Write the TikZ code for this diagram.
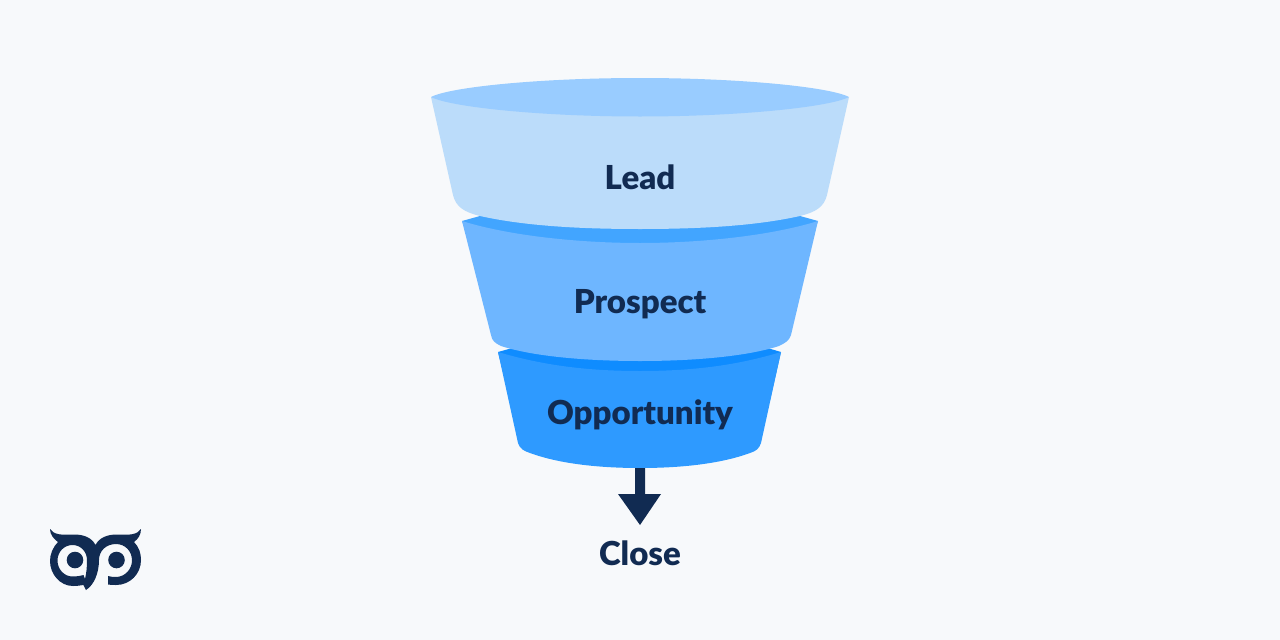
\documentclass[tikz,border=0pt]{standalone}
\usepackage{fontspec}
\setmainfont{Lato}
\IfFontExistsTF{Lato Black}{\newfontfamily\lblfont{Lato Black}}{\newfontfamily\lblfont{Lato}[BoldFont=Lato Bold]}
\definecolor{bgc}{HTML}{F7F9FB}
\definecolor{navy}{HTML}{112B52}
\definecolor{leadbody}{HTML}{BBDCFA}
\definecolor{leadtop}{HTML}{99CCFF}
\definecolor{prosbody}{HTML}{6EB6FF}
\definecolor{prosband}{HTML}{42A5FF}
\definecolor{oppbody}{HTML}{2E9AFF}
\definecolor{oppband}{HTML}{0F8CFF}
\tikzset{label text/.style={text=navy,font=\fontsize{33}{34}\lblfont,inner sep=0pt,anchor=center}}
\begin{document}
\begin{tikzpicture}[x=1pt,y=-1pt]
\useasboundingbox (0,0) rectangle (1280,640);
\fill[bgc] (0,0) rectangle (1280,640);
% opportunity
\fill[oppband] (498,352) -- (516,347) -- (764,347) -- (781,352) -- (770,400) -- (510,400) -- cycle;
\fill[oppbody] (498,352) .. controls (545,366) and (590,371) .. (640,371) .. controls (690,371) and (735,366) .. (781,352)
 -- (761,443) .. controls (759,449) and (756,451) .. (750,453) .. controls (720,464) and (680,468) .. (640,468) .. controls (600,468) and (560,464) .. (530,453) .. controls (524,451) and (520,449) .. (518,443) -- cycle;
% prospect
\fill[prosband] (462,221) -- (480,216) -- (800,216) -- (818,221) -- (800,270) -- (480,270) -- cycle;
\fill[prosbody] (462,221) .. controls (510,236) and (580,243) .. (640,243) .. controls (700,243) and (770,236) .. (818,221)
 -- (791,335) .. controls (789,341) and (785,343) .. (779,346) .. controls (745,357) and (690,361) .. (640,361) .. controls (590,361) and (535,357) .. (501,346) .. controls (495,343) and (492,341) .. (491,335) -- cycle;
% lead
\fill[leadbody] (431,97) -- (849,97) -- (827,195) .. controls (824,207) and (816,212) .. (800,216) .. controls (755,226) and (700,229) .. (640,229) .. controls (580,229) and (525,226) .. (480,216) .. controls (464,212) and (456,207) .. (453,195) -- cycle;
\fill[leadtop] (431,97) .. controls (450,87) and (540,78) .. (640,78) .. controls (740,78) and (830,87) .. (849,97) .. controls (830,107) and (740,116.5) .. (640,116.5) .. controls (540,116.5) and (450,107) .. (431,97) -- cycle;
% labels
\node[label text] (lead) at (640,177.5) {Lead};
\node[label text] (prospect) at (640,304.5) {Prospect};
\node[label text] (opportunity) at (640,415) {Opportunity};
\node[label text] (close) at (640,553.5) {Close};
% arrow
\fill[navy] (635,468) -- (645,468) -- (645,494) -- (661,494) -- (640,525) -- (618,494) -- (635,494) -- cycle;
% logo
\fill[navy,even odd rule]
 (50,529) .. controls (54,535) and (62,535) .. (72,534.5)
 .. controls (84,534) and (92,538) .. (95.5,545)
 .. controls (99,538) and (107,534) .. (119,534.5)
 .. controls (129,535) and (137,535) .. (141,529)
 .. controls (141,535) and (138,539) .. (134,542)
 .. controls (139,547) and (141,553) .. (141,560)
 .. controls (141,574) and (130,585) .. (116,585)
 .. controls (113,585) and (110,585) .. (108,584.5)
 -- (108,576)
 .. controls (110,576.7) and (113,577) .. (116,577)
 .. controls (125,577) and (132,569) .. (132,560.5)
 .. controls (132,551) and (125,544) .. (116,544)
 .. controls (106,544) and (99,551) .. (99,560)
 .. controls (99,573) and (94,585) .. (86,590)
 -- (83.5,585)
 .. controls (80,585.5) and (77,586) .. (73,586)
 .. controls (60,586) and (50,574) .. (50,561)
 .. controls (50,554) and (53,547) .. (58,542)
 .. controls (54,539) and (50,535) .. (50,529) -- cycle
 (87,560) .. controls (87,552) and (81,545) .. (72.5,545)
 .. controls (64,545) and (57.5,552) .. (57.5,560.5)
 .. controls (57.5,569) and (64,576.5) .. (72.5,576.5)
 .. controls (76,576.5) and (80,576) .. (83.5,575)
 -- (85,579)
 .. controls (86.5,573) and (87,567) .. (87,560) -- cycle;
\fill[navy] (75,560) circle [radius=8.3];
\fill[navy] (116.5,560) circle [radius=8.3];
\end{tikzpicture}
\end{document}
